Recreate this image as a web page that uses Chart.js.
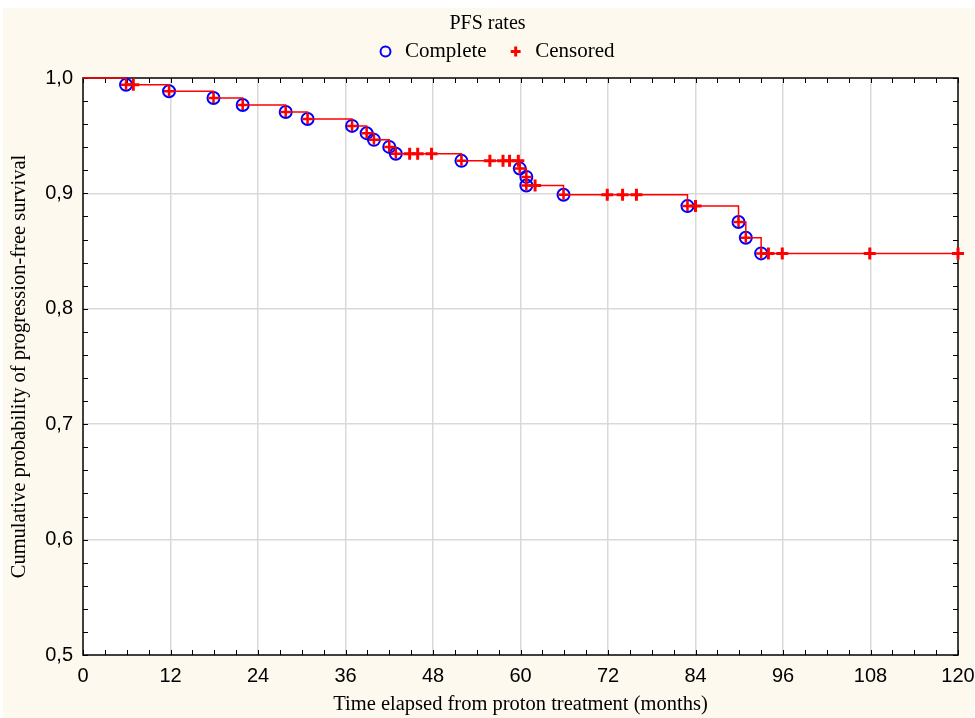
<!DOCTYPE html>
<html><head><meta charset="utf-8">
<script src="https://cdn.jsdelivr.net/npm/chart.js@4/dist/chart.umd.min.js"></script>
<style>html,body{margin:0;padding:0;background:#fff;}#wrap{width:975px;height:718px;}</style>
</head><body><div id="wrap"><canvas id="c" width="975" height="718"></canvas></div>
<script>
// Event (complete) times in months and cumulative PFS at those times
const completeTimes = [5.9, 11.8, 17.9, 21.9, 27.8, 30.8, 36.9, 38.9, 39.9, 42.0, 42.9, 51.9, 59.9, 60.8, 60.8, 65.9, 82.9, 89.9, 90.9, 93.0];
const completeSurv  = [0.9942, 0.9885, 0.9827, 0.9766, 0.9705, 0.9645, 0.9585, 0.9522, 0.9464, 0.9403, 0.9343, 0.9282, 0.9215, 0.9143, 0.9068, 0.8988, 0.8890, 0.8752, 0.8616, 0.8480];
// Censored observations
const censoredTimes = [6.9, 44.8, 45.9, 47.8, 55.8, 57.6, 58.5, 59.7, 62.0, 71.9, 74.0, 75.9, 84.0, 94.0, 95.9, 107.9, 120];
const censoredSurv  = [0.9942, 0.9343, 0.9343, 0.9343, 0.9282, 0.9282, 0.9282, 0.9282, 0.9068, 0.8988, 0.8988, 0.8988, 0.8890, 0.8480, 0.8480, 0.8480, 0.8480];
const xTickValues = [0, 12, 24, 36, 48, 60, 72, 84, 96, 108, 120];
const yTickValues = [0.5, 0.6, 0.7, 0.8, 0.9, 1.0];
const titleText = 'PFS rates';
const seriesNames = ['Complete', 'Censored'];
const xTitle = 'Time elapsed from proton treatment (months)';
const yTitle = 'Cumulative probability of progression-free survival';

const completePts = completeTimes.map((t, i) => ({x: t, y: completeSurv[i]}));
const censoredPts = censoredTimes.map((t, i) => ({x: t, y: censoredSurv[i]}));
const stepPts = [{x: 0, y: 1}].concat(completePts, [{x: 120, y: completeSurv[completeSurv.length - 1]}]);

const SERIF = "'Liberation Serif', 'Times New Roman', serif";
const NARROW = "'Liberation Sans Narrow', 'Arial Narrow', 'Liberation Sans', Arial, sans-serif";

const bgPlugin = {
  id: 'bg',
  afterLayout(chart) {
    if (chart.legend) { chart.legend.left += 8; chart.legend.right += 8; }
  },
  beforeDraw(chart) {
    const ctx = chart.ctx, a = chart.chartArea;
    ctx.save();
    ctx.fillStyle = '#ffffff';
    ctx.fillRect(0, 0, chart.width, chart.height);
    ctx.fillStyle = '#fdf9ef';
    ctx.fillRect(3, 8, chart.width - 4, chart.height - 8);
    ctx.fillStyle = '#ffffff';
    ctx.fillRect(a.left, a.top, a.right - a.left, a.bottom - a.top);
    ctx.restore();
  },
  beforeDatasetsDraw(chart) {
    const ctx = chart.ctx, a = chart.chartArea;
    const xs = chart.scales.x, ys = chart.scales.y;
    ctx.save();
    ctx.strokeStyle = '#000';
    ctx.lineWidth = 1;
    ctx.beginPath();
    for (let m = 0; m <= 120; m += 3) {
      const px = Math.round(xs.getPixelForValue(m)) + 0.5;
      ctx.moveTo(px, a.bottom); ctx.lineTo(px, a.bottom - 5);
      ctx.moveTo(px, a.top); ctx.lineTo(px, a.top + 5);
    }
    for (let k = 0; k <= 25; k++) {
      const v = 0.5 + k * 0.02;
      const py = Math.round(ys.getPixelForValue(v)) + 0.5;
      ctx.moveTo(a.left, py); ctx.lineTo(a.left + 5, py);
      ctx.moveTo(a.right, py); ctx.lineTo(a.right - 5, py);
    }
    ctx.stroke();
    ctx.lineWidth = 1.5;
    ctx.strokeRect(a.left, a.top, a.right - a.left, a.bottom - a.top);
    ctx.restore();
  }
};

Chart.defaults.color = '#000';
new Chart(document.getElementById('c'), {
  type: 'scatter',
  data: {
    datasets: [
      {
        label: seriesNames[0], data: completePts, order: 3, clip: false,
        pointStyle: 'circle', pointRadius: 6, pointHoverRadius: 6,
        pointBorderColor: '#0000ff', pointBackgroundColor: 'rgba(0,0,0,0)', pointBorderWidth: 2,
        borderColor: '#0000ff', backgroundColor: 'rgba(0,0,0,0)', borderWidth: 2
      },
      {
        label: seriesNames[1], data: censoredPts, order: 1, clip: false,
        pointStyle: 'cross', pointRadius: 6, pointHoverRadius: 6,
        pointBorderColor: '#ff0000', pointBackgroundColor: '#ff0000', pointBorderWidth: 3,
        borderColor: '#ff0000', backgroundColor: '#ff0000', borderWidth: 3
      },
      {
        label: 'step', data: stepPts, order: 2, clip: false, showLine: true, stepped: true,
        borderColor: '#ff0000', borderWidth: 1.5, backgroundColor: '#ff0000',
        pointStyle: 'cross', pointBorderColor: '#ff0000', pointBorderWidth: 2.5,
        pointRadius: (c) => (c.dataIndex === 0 || c.dataIndex === stepPts.length - 1) ? 0 : 5,
        pointHoverRadius: 0
      }
    ]
  },
  options: {
    responsive: false, animation: false, devicePixelRatio: 1,
    layout: {padding: {left: 0, right: 0, top: 0, bottom: 0}},
    plugins: {
      tooltip: {enabled: false},
      title: {
        display: true, text: titleText, color: '#000',
        font: {family: SERIF, size: 20, weight: 'normal'},
        padding: {top: 12, bottom: -15}
      },
      legend: {
        display: true, position: 'top',
        labels: {
          usePointStyle: true, boxWidth: 18, boxHeight: 7, padding: 20, color: '#000',
          font: {family: SERIF, size: 21},
          filter: (item) => item.datasetIndex < 2,
          sort: (a, b) => a.datasetIndex - b.datasetIndex
        }
      }
    },
    scales: {
      x: {
        type: 'linear', position: 'bottom', min: 0, max: 120,
        afterBuildTicks: (s) => { s.ticks = xTickValues.map(v => ({value: v})); },
        afterFit: (s) => { s.height = 63; },
        ticks: {font: {family: NARROW, size: 20}, padding: 0, maxRotation: 0, autoSkip: false},
        grid: {drawTicks: true, tickLength: 9, tickColor: 'rgba(0,0,0,0)', color: (c) => (c.tick && (c.tick.value === 0 || c.tick.value === 120)) ? 'rgba(0,0,0,0)' : '#d9d9d9', lineWidth: 1.5},
        border: {display: false},
        title: {display: true, text: xTitle, font: {family: SERIF, size: 20.5}, padding: {top: 0, bottom: 1}}
      },
      y: {
        type: 'linear', position: 'left', min: 0.5, max: 1.0,
        afterBuildTicks: (s) => { s.ticks = yTickValues.map(v => ({value: v})); },
        afterFit: (s) => { s.width = 83; },
        ticks: {font: {family: NARROW, size: 20}, padding: 10, callback: (v) => Number(v).toFixed(1).replace('.', ',')},
        grid: {drawTicks: false, color: (c) => (c.tick && (c.tick.value <= 0.5 || c.tick.value >= 1.0)) ? 'rgba(0,0,0,0)' : '#d9d9d9', lineWidth: 1.5},
        border: {display: false},
        title: {display: true, text: yTitle, font: {family: SERIF, size: 20.5}, padding: {top: 7, bottom: 0}}
      },
      xTopGap: {
        type: 'linear', axis: 'x', position: 'top', min: 0, max: 120, display: true,
        afterFit: (s) => { s.height = 6; },
        ticks: {display: false}, grid: {display: false, drawTicks: false}, border: {display: false}
      },
      yRightGap: {
        type: 'linear', axis: 'y', position: 'right', min: 0.5, max: 1.0, display: true,
        afterFit: (s) => { s.width = 17; },
        ticks: {display: false}, grid: {display: false, drawTicks: false}, border: {display: false}
      }
    }
  },
  plugins: [bgPlugin]
});
</script>
</body></html>
